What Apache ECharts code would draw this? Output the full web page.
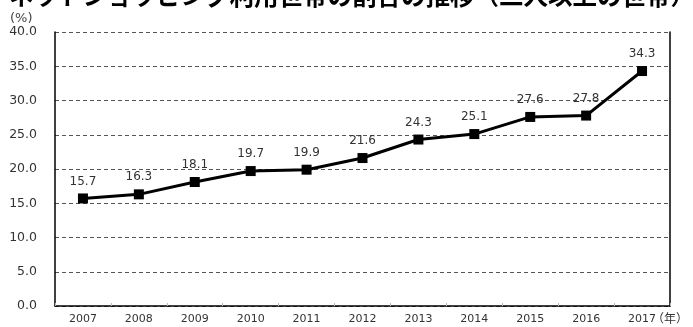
<!DOCTYPE html>
<html><head><meta charset="utf-8">
<script src="https://cdn.jsdelivr.net/npm/echarts@6/dist/echarts.min.js"></script>
<style>html,body{margin:0;padding:0;background:#fff}#c{width:693px;height:327px}</style>
</head><body><div id="c"></div>
<script>
const categories = ['2007','2008','2009','2010','2011','2012','2013','2014','2015','2016','2017'];
const values = [15.7, 16.3, 18.1, 19.7, 19.9, 21.6, 24.3, 25.1, 27.6, 27.8, 34.3];
const titleText = 'ネットショッピング利用世帯の割合の推移（二人以上の世帯）';
const chart = echarts.init(document.getElementById('c'), null, {renderer:'canvas'});
const font = '"DejaVu Sans",sans-serif';
chart.setOption({
  animation:false,
  backgroundColor:'#fff',
  title:{text:titleText, left:4, top:-22, textStyle:{fontFamily:'"Noto Sans CJK JP"', fontSize:24.5, fontWeight:'bold', color:'#000'}},
  grid:{left:55, right:23, top:32, bottom:21},
  graphic:[
    {type:'text', left:10, top:12, style:{text:'(%)', font:'13px '+font, fill:'#444'}},
    {type:'text', left:652, top:312, style:{text:'（年）', font:'12px "Noto Sans CJK JP"', fill:'#333'}}
  ],
  xAxis:{type:'category', data:categories, boundaryGap:true,
    axisLine:{lineStyle:{color:'#000', width:1.5}},
    axisTick:{show:true, inside:true, length:3, lineStyle:{color:'#bbb'}},
    axisLabel:{fontFamily:font, fontSize:11, color:'#333', margin:8}},
  yAxis:[{type:'value', min:0, max:40, interval:5,
    axisLine:{show:true, lineStyle:{color:'#000', width:1.5}},
    axisTick:{show:false},
    axisLabel:{fontFamily:font, fontSize:12.5, color:'#333', margin:18, formatter:v=>v.toFixed(1)},
    splitLine:{show:true, lineStyle:{color:'#555', type:[4,3], width:1}}},
    {type:'value', min:0, max:40, interval:5, position:'right',
    axisLine:{show:true, lineStyle:{color:'#000', width:1.5}},
    axisTick:{show:false}, axisLabel:{show:false}, splitLine:{show:false}}],
  series:[{type:'line', data:values, symbol:'rect', symbolSize:10,
    lineStyle:{color:'#000', width:3}, itemStyle:{color:'#000'},
    label:{show:true, position:'top', distance:6, fontFamily:font, fontSize:12, color:'#333', formatter:p=>p.value.toFixed(1)}}]
});
</script></body></html>
